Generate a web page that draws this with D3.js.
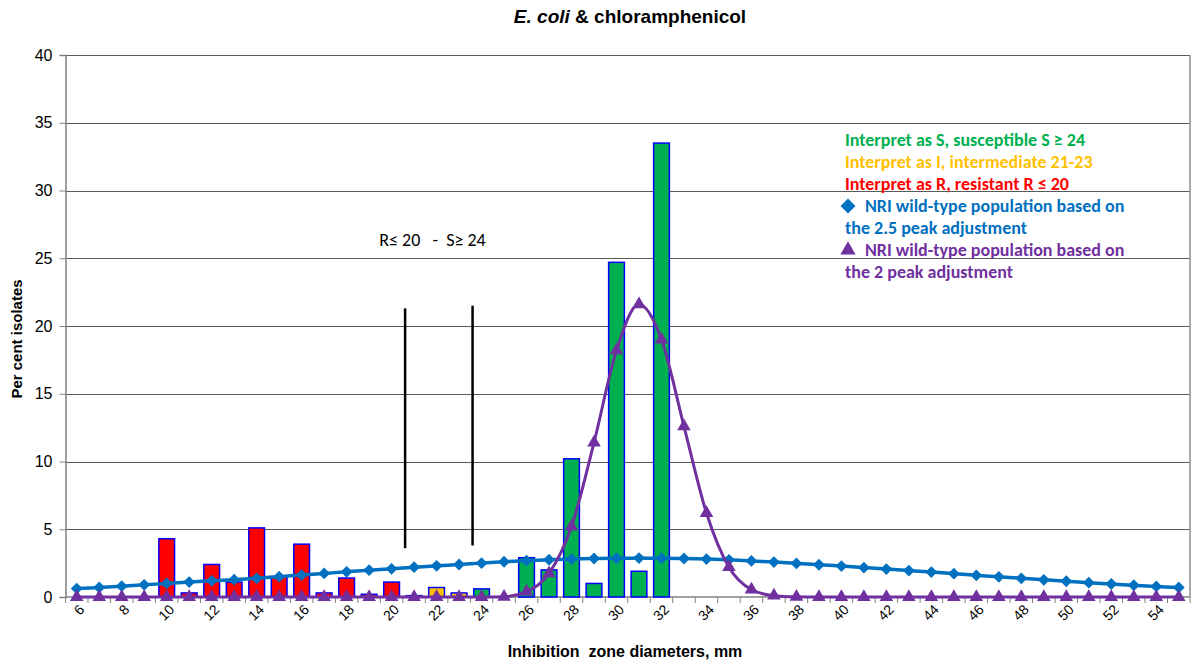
<!DOCTYPE html>
<html>
<head>
<meta charset="utf-8">
<script src="https://cdn.jsdelivr.net/npm/d3@7"></script>
<style>
  body { margin: 0; background: #fff; }
  svg { display: block; }
  .arial { font-family: "Liberation Sans", Arial, sans-serif; }
  .calibri { font-family: Carlito, Lato, "Open Sans", sans-serif; }
</style>
</head>
<body>
<svg id="chart" width="1194" height="668"></svg>
<script>
// Inhibition zone diameters (mm), one category per millimetre
const diameters = [6, 7, 8, 9, 10, 11, 12, 13, 14, 15, 16, 17, 18, 19, 20,
  21, 22, 23, 24, 25, 26, 27, 28, 29, 30, 31, 32, 33, 34, 35, 36, 37, 38, 39, 40,
  41, 42, 43, 44, 45, 46, 47, 48, 49, 50, 51, 52, 53, 54, 55];

// Per cent of isolates at each diameter
const isolatePct = [0, 0, 0, 0, 4.3, 0.3, 2.4, 1.1, 5.1, 1.5, 3.9, 0.3, 1.4, 0.2, 1.1,
  0.1, 0.7, 0.3, 0.6, 0, 2.9, 2.0, 10.2, 1.0, 24.7, 1.9, 33.5, 0, 0, 0, 0, 0, 0, 0, 0,
  0, 0, 0, 0, 0, 0, 0, 0, 0, 0, 0, 0, 0, 0, 0];

// NRI wild-type population, 2.5 peak adjustment
const nriPeak25 = [0.62, 0.70, 0.80, 0.90, 1.00, 1.10, 1.20, 1.28, 1.38, 1.50, 1.62, 1.74, 1.86, 1.98, 2.08,
  2.20, 2.30, 2.40, 2.50, 2.60, 2.68, 2.75, 2.80, 2.84, 2.86, 2.87, 2.86, 2.84, 2.80, 2.74, 2.66, 2.58, 2.48, 2.38, 2.28,
  2.17, 2.06, 1.95, 1.84, 1.72, 1.60, 1.49, 1.38, 1.27, 1.16, 1.06, 0.96, 0.87, 0.78, 0.70];

// NRI wild-type population, 2 peak adjustment
const nriPeak2 = [0, 0, 0, 0, 0, 0, 0, 0, 0, 0, 0, 0, 0, 0, 0,
  0, 0, 0, 0, 0.02, 0.4, 1.75, 5.2, 11.4, 18.2, 21.6, 19.0, 12.6, 6.2, 2.2, 0.55, 0.1, 0.02, 0, 0,
  0, 0, 0, 0, 0, 0, 0, 0, 0, 0, 0, 0, 0, 0, 0];

const yTicks = [0, 5, 10, 15, 20, 25, 30, 35, 40];
const xTickLabels = [6, 8, 10, 12, 14, 16, 18, 20, 22, 24, 26, 28, 30, 32, 34, 36, 38, 40,
  42, 44, 46, 48, 50, 52, 54];

// Clinical breakpoints
const resistantMax = 20;     // R <= 20
const susceptibleMin = 24;   // S >= 24
// Marker lines drawn between the categories, with their vertical extent (per cent)
const markerX = [20.6, 23.6];
const markerSpan = [[3.6, 21.3], [3.8, 21.5]];

const legendItems = [
  { text: "Interpret as S, susceptible S \u2265 24", color: "#00B050", symbol: null },
  { text: "Interpret as I, intermediate 21-23", color: "#FFC000", symbol: null },
  { text: "Interpret as R, resistant R \u2264 20", color: "#FF0000", symbol: null },
  { text: "NRI wild-type population based on", color: "#0070C0", symbol: "diamond" },
  { text: "the 2.5 peak adjustment", color: "#0070C0", symbol: null },
  { text: "NRI wild-type population based on", color: "#7030A0", symbol: "triangle" },
  { text: "the 2 peak adjustment", color: "#7030A0", symbol: null }
];

const colors = { S: "#00B050", I: "#FFC000", R: "#FF0000", nri25: "#0070C0", nri2: "#7030A0" };

const svg = d3.select("#chart");
const plot = { left: 65.5, right: 1190, top: 55, bottom: 597 };

const x = d3.scaleBand().domain(diameters).range([plot.left, plot.right]).padding(0);
const bw = x.bandwidth();
// continuous mapping onto category centres, for in-between positions
const xc = d3.scaleLinear().domain([diameters[0], diameters[diameters.length - 1]])
  .range([x(diameters[0]) + bw / 2, x(diameters[diameters.length - 1]) + bw / 2]);
const y = d3.scaleLinear().domain([0, 40]).range([plot.bottom, plot.top]);

// Gridlines
svg.append("g")
  .selectAll("line").data(yTicks.filter(d => d > 0)).join("line")
  .attr("x1", plot.left).attr("x2", plot.right)
  .attr("y1", d => Math.round(y(d)) + 0.5).attr("y2", d => Math.round(y(d)) + 0.5)
  .attr("stroke", "#5a5a5a").attr("stroke-width", 1);

// Right frame edge
svg.append("line")
  .attr("x1", plot.right).attr("x2", plot.right)
  .attr("y1", y(40)).attr("y2", y(0))
  .attr("stroke", "#8c8c8c").attr("stroke-width", 1.5);

// Y axis
const yAxis = svg.append("g")
  .attr("transform", `translate(${plot.left},0)`)
  .call(d3.axisLeft(y).tickValues(yTicks).tickSize(6).tickPadding(7))
  .attr("class", "arial");
yAxis.select(".domain").attr("stroke", "#808080").attr("stroke-width", 1.5);
yAxis.selectAll(".tick line").attr("stroke", "#808080");
yAxis.selectAll(".tick text").attr("font-size", 16).attr("fill", "#000");

// X axis with ticks on category boundaries
const xAxisG = svg.append("g").attr("class", "arial");
xAxisG.append("line")
  .attr("x1", plot.left).attr("x2", plot.right)
  .attr("y1", y(0)).attr("y2", y(0))
  .attr("stroke", "#808080").attr("stroke-width", 1.5);
xAxisG.selectAll("line.tk").data(diameters.concat([56])).join("line")
  .attr("class", "tk")
  .attr("x1", (d, i) => plot.left + i * bw).attr("x2", (d, i) => plot.left + i * bw)
  .attr("y1", y(0)).attr("y2", y(0) + 6)
  .attr("stroke", "#808080").attr("stroke-width", 1);
xAxisG.selectAll("text").data(xTickLabels).join("text")
  .attr("transform", d => `translate(${x(d) + bw / 2 + 5},${y(0) + 10}) rotate(-45)`)
  .attr("text-anchor", "end")
  .attr("dy", "0.35em")
  .attr("font-size", 14)
  .text(d => d);

// Bars coloured by interpretive category
const bars = diameters.map((d, i) => ({ d, v: isolatePct[i] })).filter(b => b.v > 0);
svg.append("g").selectAll("rect").data(bars).join("rect")
  .attr("x", b => x(b.d) + bw * 0.15)
  .attr("width", bw * 0.7)
  .attr("y", b => y(b.v))
  .attr("height", b => y(0) - y(b.v))
  .attr("fill", b => b.d <= resistantMax ? colors.R : (b.d >= susceptibleMin ? colors.S : colors.I))
  .attr("stroke", "#0000FF")
  .attr("stroke-width", 1.5);

// Breakpoint marker lines
svg.append("g").selectAll("line").data(markerX).join("line")
  .attr("x1", d => xc(d)).attr("x2", d => xc(d))
  .attr("y1", (d, i) => y(markerSpan[i][1])).attr("y2", (d, i) => y(markerSpan[i][0]))
  .attr("stroke", "#000").attr("stroke-width", 2.5);

svg.append("text")
  .attr("class", "calibri")
  .attr("x", xc(19.45)).attr("y", y(25.9))
  .attr("font-size", 18)
  .attr("fill", "#000")
  .style("white-space", "pre")
  .text("R\u2264 20   -  S\u2265 24");

// Custom diamond marker
const diamondSym = {
  draw(ctx, size) {
    const r = Math.sqrt(size / 2);
    ctx.moveTo(0, -r); ctx.lineTo(r, 0); ctx.lineTo(0, r); ctx.lineTo(-r, 0); ctx.closePath();
  }
};

// NRI 2.5 peak curve
const pts25 = diameters.map((d, i) => [xc(d), y(nriPeak25[i])]);
svg.append("path")
  .attr("d", d3.line().curve(d3.curveCatmullRom)(pts25))
  .attr("fill", "none").attr("stroke", colors.nri25).attr("stroke-width", 3.5);
svg.append("g").selectAll("path").data(pts25).join("path")
  .attr("transform", p => `translate(${p[0]},${p[1]})`)
  .attr("d", d3.symbol().type(diamondSym).size(70))
  .attr("fill", colors.nri25);

// NRI 2 peak curve
const pts2 = diameters.map((d, i) => [xc(d), y(nriPeak2[i])]);
svg.append("path")
  .attr("d", d3.line().curve(d3.curveMonotoneX)(pts2))
  .attr("fill", "none").attr("stroke", colors.nri2).attr("stroke-width", 3);
svg.append("g").selectAll("path").data(pts2).join("path")
  .attr("transform", p => `translate(${p[0]},${p[1]})`)
  .attr("d", d3.symbol().type(d3.symbolTriangle).size(80))
  .attr("fill", colors.nri2);

// Legend block
const lg = svg.append("g").attr("class", "calibri").attr("font-weight", "bold").attr("font-size", 18);
const lgX = 845, lgY0 = 146, lgDy = 22;
legendItems.forEach((it, i) => {
  const yy = lgY0 + i * lgDy;
  const tx = it.symbol ? lgX + 20 : lgX;
  lg.append("text").attr("x", tx).attr("y", yy).attr("fill", it.color).text(it.text);
  if (it.symbol) {
    lg.append("path")
      .attr("transform", `translate(${lgX + 3},${yy - 6})`)
      .attr("d", d3.symbol().type(it.symbol === "diamond" ? diamondSym : d3.symbolTriangle)
        .size(it.symbol === "diamond" ? 110 : 100))
      .attr("fill", it.color);
  }
});

// Titles
const title = svg.append("text").attr("class", "arial")
  .attr("x", 630).attr("y", 23).attr("text-anchor", "middle")
  .attr("font-weight", "bold").attr("font-size", 19);
title.append("tspan").attr("font-style", "italic").text("E. coli");
title.append("tspan").text(" & chloramphenicol");

svg.append("text").attr("class", "arial")
  .attr("transform", `translate(22,339) rotate(-90)`)
  .attr("text-anchor", "middle")
  .attr("font-weight", "bold").attr("font-size", 15)
  .text("Per cent isolates");

svg.append("text").attr("class", "arial")
  .attr("x", 625).attr("y", 657).attr("text-anchor", "middle")
  .attr("font-weight", "bold").attr("font-size", 16)
  .style("white-space", "pre")
  .text("Inhibition  zone diameters, mm");
</script>
</body>
</html>
